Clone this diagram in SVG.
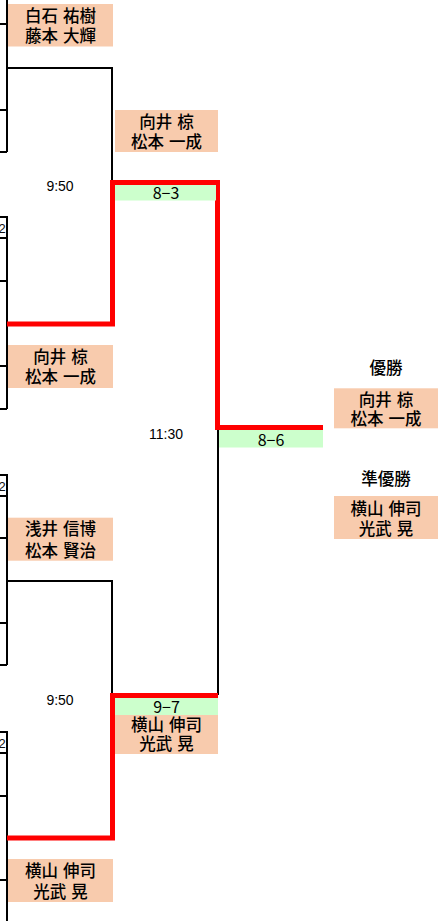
<svg xmlns="http://www.w3.org/2000/svg" width="448" height="921" viewBox="0 0 448 921">
<style>
.bg{fill:#ffffff}
.name{fill:#F8CBAD}
.score{fill:#CCFFCC}
.ln{stroke:#000;stroke-width:2;fill:none}
.red{stroke:#FF0000;stroke-width:5;fill:none}
.jp{font-family:"Noto Sans CJK JP","Noto Sans CJK SC",sans-serif;font-size:16.5px;font-weight:500;fill:#000;text-anchor:middle;dominant-baseline:central;word-spacing:1.5px}
.num{font-family:"Liberation Sans",Arial,sans-serif;font-size:14px;fill:#000;text-anchor:middle;dominant-baseline:central}
.sc{font-family:"Noto Sans CJK JP",sans-serif;font-size:16px;fill:#000;text-anchor:middle;dominant-baseline:central}
.frag{font-family:"Liberation Sans",Arial,sans-serif;font-size:13px;fill:#111;text-anchor:middle;dominant-baseline:central}
</style>
<defs>
<clipPath id="cl"><rect x="0" y="0" width="6" height="921"/></clipPath>
</defs>
<rect class="bg" x="0" y="0" width="448" height="921"/>

<g id="left-cells">
<path class="ln" d="M7,0 V152 M0,24 H7 M0,110 H7 M0,152 H7"/>
<path class="ln" d="M0,217 H7 V409 M0,238 H7 M0,281 H7 M0,366 H7 M0,409 H7"/>
<path class="ln" d="M0,475 H7 V665 M0,496 H7 M0,538 H7 M0,623 H7 M0,665 H7"/>
<path class="ln" d="M0,732 H7 V921 M0,753 H7 M0,796 H7 M0,880 H7"/>
<g clip-path="url(#cl)">
<text class="frag" x="2" y="228">2</text>
<text class="frag" x="2" y="486">2</text>
<text class="frag" x="2" y="743">2</text>
</g>
</g>

<g id="connectors">
<path class="ln" d="M7,68 H112 V182"/>
<path class="ln" d="M7,581 H112 V695"/>
<path class="ln" d="M218,430 V695"/>
<path class="red" d="M7,324 H112.5 V182.5 H217.5 V427.5 H323"/>
<path class="red" d="M7,838 H112.5 V695.5 H218"/>
</g>

<g id="n1">
<rect class="name" x="8" y="4" width="105" height="42.5"/>
<text class="jp" x="60.5" y="14.5">白石 祐樹</text>
<text class="jp" x="60.5" y="35">藤本 大輝</text>
</g>
<g id="n2">
<rect class="name" x="115" y="110" width="103" height="42"/>
<text class="jp" x="166.5" y="120.5">向井 椋</text>
<text class="jp" x="166.5" y="141">松本 一成</text>
</g>
<g id="n3">
<rect class="name" x="8" y="345" width="105" height="43"/>
<text class="jp" x="60.5" y="355.7">向井 椋</text>
<text class="jp" x="60.5" y="376">松本 一成</text>
</g>
<g id="n4">
<rect class="name" x="8" y="517.7" width="105" height="43"/>
<text class="jp" x="60.5" y="528">浅井 信博</text>
<text class="jp" x="60.5" y="549.5">松本 賢治</text>
</g>
<g id="n5">
<rect class="name" x="115" y="715" width="103" height="39"/>
<text class="jp" x="166.5" y="723.7">横山 伸司</text>
<text class="jp" x="166.5" y="743">光武 晃</text>
</g>
<g id="n6">
<rect class="name" x="8" y="859" width="105" height="43"/>
<text class="jp" x="60.5" y="869.5">横山 伸司</text>
<text class="jp" x="60.5" y="890.5">光武 晃</text>
</g>
<g id="winner">
<text class="jp" x="386" y="367">優勝</text>
<rect class="name" x="334" y="388.3" width="104" height="40"/>
<text class="jp" x="386" y="398.7">向井 椋</text>
<text class="jp" x="386" y="418">松本 一成</text>
</g>
<g id="runnerup">
<text class="jp" x="386" y="478.3">準優勝</text>
<rect class="name" x="334" y="496" width="104" height="43"/>
<text class="jp" x="386" y="507.5">横山 伸司</text>
<text class="jp" x="386" y="527.5">光武 晃</text>
</g>

<g id="s1">
<rect class="score" x="115" y="185" width="101" height="15.5"/>
<text class="sc" x="166" y="191.5">8−3</text>
</g>
<g id="s2">
<rect class="score" x="219" y="430" width="104" height="17.5"/>
<text class="sc" x="271" y="439">8−6</text>
</g>
<g id="s3">
<rect class="score" x="115" y="698" width="103" height="17"/>
<text class="sc" x="166.5" y="706">9−7</text>
</g>

<g id="times">
<text class="num" x="60" y="186">9:50</text>
<text class="num" x="60" y="700">9:50</text>
<text class="num" x="166" y="433.5">11:30</text>
</g>
</svg>
